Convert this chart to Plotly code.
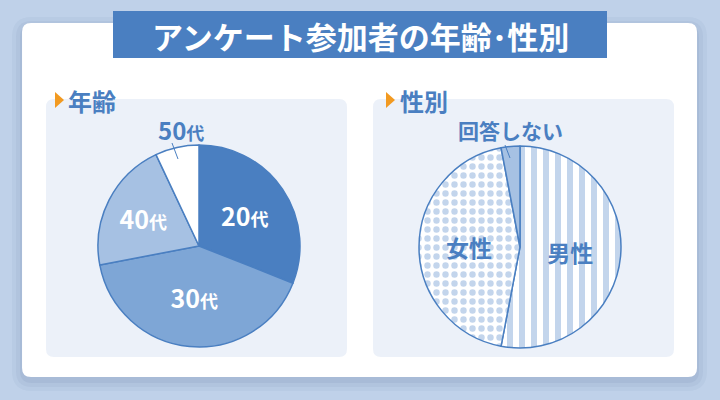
import plotly.graph_objects as go

title = 'アンケート参加者の年齢･性別'

age_labels = ['20代', '30代', '40代', '50代']
age_values = [31, 41, 21, 7]
age_colors = ['#4a7fc1', '#7ea6d6', '#a6c1e3', '#ffffff']

sex_labels = ['男性', '女性', '回答しない']
sex_values = [53, 44, 3]

BLUE = '#4a7fc1'
FONT = 'Noto Sans CJK JP'
W, H = 720, 400


def rounded_rect(x0, y0, x1, y1, r):
    # pixel coords (top-left origin) -> paper coords path
    def p(x, y):
        return '%.4f,%.4f' % (x / W, 1 - y / H)
    return ('M' + p(x0 + r, y0) + ' L' + p(x1 - r, y0) + ' Q' + p(x1, y0) + ' ' + p(x1, y0 + r) +
            ' L' + p(x1, y1 - r) + ' Q' + p(x1, y1) + ' ' + p(x1 - r, y1) +
            ' L' + p(x0 + r, y1) + ' Q' + p(x0, y1) + ' ' + p(x0, y1 - r) +
            ' L' + p(x0, y0 + r) + ' Q' + p(x0, y0) + ' ' + p(x0 + r, y0) + ' Z')


def domain(cx, cy, r):
    return dict(x=[(cx - r) / W, (cx + r) / W], y=[1 - (cy + r) / H, 1 - (cy - r) / H])


def label(text, x, y, size, color=BLUE, xanchor='center'):
    return dict(text='<b>' + text + '</b>', x=x / W, y=1 - y / H, xref='paper', yref='paper',
                showarrow=False, xanchor=xanchor, yanchor='middle',
                font=dict(family=FONT, size=size, color=color))


fig = go.Figure()

# age pie
age_text = ['<b>' + l.replace('代', "<span style='font-size:18px'>代</span>") + '</b>' for l in age_labels]
age_text[-1] = ''
fig.add_trace(go.Pie(
    labels=age_labels, values=age_values, text=age_text, textinfo='text',
    sort=False, direction='clockwise', rotation=0,
    marker=dict(colors=age_colors, line=dict(color=BLUE, width=1.5)),
    textposition='inside', insidetextorientation='horizontal',
    insidetextfont=dict(family=FONT, size=25, color='white'),
    domain=domain(199, 246, 101), showlegend=False, hoverinfo='label+percent',
))

# sex pie
sex_text = ['<b>' + l + '</b>' for l in sex_labels]
sex_text[-1] = ''
fig.add_trace(go.Pie(
    labels=sex_labels, values=sex_values, text=sex_text, textinfo='text',
    sort=False, direction='clockwise', rotation=0,
    marker=dict(colors=['white', 'white', '#a6c1e3'], line=dict(color=BLUE, width=1.5),
                pattern=dict(shape=['|', '.', ''], fgcolor='#c3d5ec', bgcolor='white',
                             size=[12, 9, 8], solidity=[0.5, 0.4, 0.3], fillmode='replace')),
    textposition='inside', insidetextorientation='horizontal',
    insidetextfont=dict(family=FONT, size=23, color=BLUE),
    domain=domain(520, 247, 101), showlegend=False, hoverinfo='label+percent',
))

shapes = []
# card shadow
for i, a in enumerate([0.05, 0.06, 0.08]):
    g = 10 - i * 4
    shapes.append(dict(type='path', path=rounded_rect(22 - g, 23 - g + 4, 697 + g, 377 + g + 4, 10 + g),
                       xref='paper', yref='paper', fillcolor='rgba(60,90,140,%.2f)' % a,
                       line=dict(width=0), layer='below'))
shapes.append(dict(type='path', path=rounded_rect(22, 23, 697, 377, 9), xref='paper', yref='paper',
                   fillcolor='white', line=dict(width=0), layer='below'))
# panels
for x0 in (46, 373):
    shapes.append(dict(type='path', path=rounded_rect(x0, 99, x0 + 301, 357, 8), xref='paper',
                       yref='paper', fillcolor='#ecf1f9', line=dict(width=0), layer='below'))
# title banner
shapes.append(dict(type='rect', x0=113 / W, x1=607 / W, y0=1 - 58 / H, y1=1 - 11 / H, xref='paper',
                   yref='paper', fillcolor=BLUE, line=dict(width=0), layer='below'))
# orange markers
for x0 in (55, 386):
    shapes.append(dict(type='path', xref='paper', yref='paper', fillcolor='#f29a21', line=dict(width=0),
                       path='M%.4f,%.4f L%.4f,%.4f L%.4f,%.4f Z' % (x0 / W, 1 - 92 / H, (x0 + 9) / W,
                                                                    1 - 100 / H, x0 / W, 1 - 108 / H)))
# leader ticks for small slices
for (xa, ya, xb, yb) in [(172, 143, 178, 159), (505, 145, 510, 158)]:
    shapes.append(dict(type='line', xref='paper', yref='paper', x0=xa / W, y0=1 - ya / H, x1=xb / W,
                       y1=1 - yb / H, line=dict(color=BLUE, width=1)))

annotations = [
    label(title, 360, 35, 31, color='white'),
    label('年齢', 66, 100, 24, xanchor='left'),
    label('性別', 398, 100, 24, xanchor='left'),
    label(age_labels[3].replace('代', "<span style='font-size:18px'>代</span>"), 181, 130, 24),
    label(sex_labels[2], 510, 130, 21),
]

fig.update_layout(
    width=W, height=H, margin=dict(l=0, r=0, t=0, b=0),
    paper_bgcolor='#bfd1e9', plot_bgcolor='#bfd1e9',
    font=dict(family=FONT),
    shapes=shapes, annotations=annotations,
)

fig.write_html('out.html', config={'displayModeBar': False},
               post_script="document.body.style.margin='0';")
